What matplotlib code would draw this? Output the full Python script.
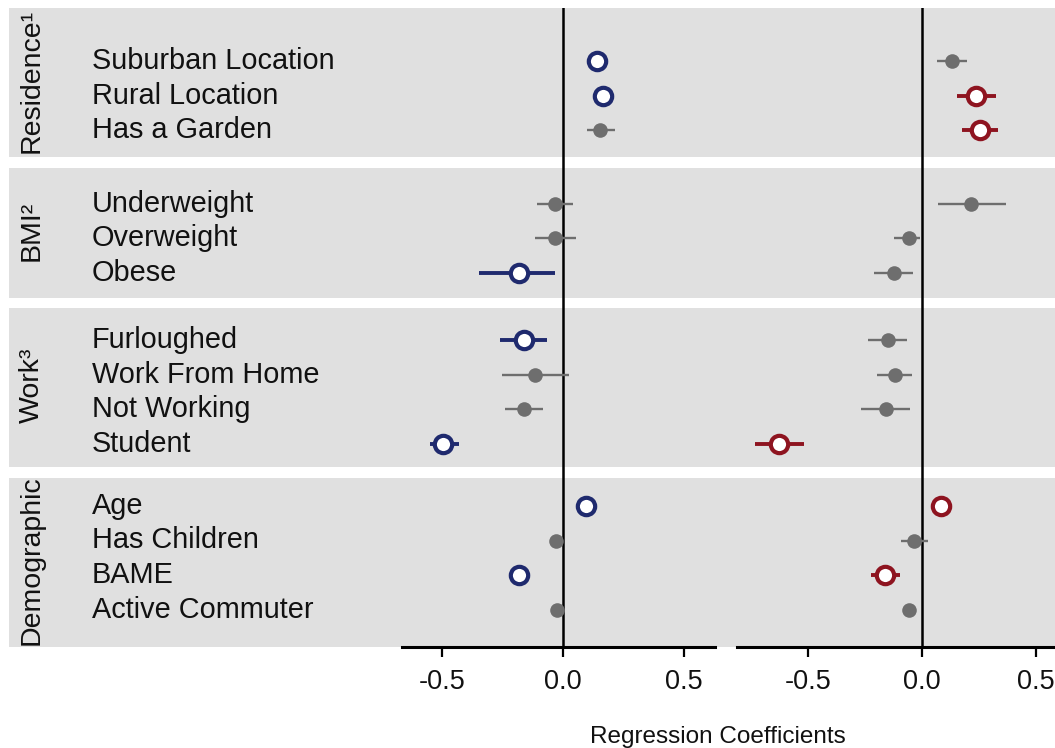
import matplotlib
matplotlib.use("Agg")
import matplotlib.pyplot as plt
from matplotlib.patches import Rectangle

plt.rcParams["font.family"] = ["Liberation Sans", "DejaVu Sans"]

# ---------------- data ----------------
groups = ["Residence¹", "BMI²", "Work³", "Demographic"]
group_rows = [
    ["Suburban Location", "Rural Location", "Has a Garden"],
    ["Underweight", "Overweight", "Obese"],
    ["Furloughed", "Work From Home", "Not Working", "Student"],
    ["Age", "Has Children", "BAME", "Active Commuter"],
]

left_coef = [0.141, 0.169, 0.154, -0.033, -0.033, -0.181, -0.160, -0.116,
             -0.160, -0.495, 0.095, -0.029, -0.181, -0.022]
left_lo = [0.125, 0.153, 0.100, -0.105, -0.116, -0.344, -0.257, -0.250,
           -0.239, -0.548, 0.080, -0.045, -0.195, -0.037]
left_hi = [0.157, 0.185, 0.215, 0.044, 0.054, -0.033, -0.066, 0.026,
           -0.082, -0.430, 0.110, -0.013, -0.167, -0.007]
left_sig = [1, 1, 0, 0, 0, 1, 1, 0, 0, 1, 1, 0, 1, 0]

right_coef = [0.130, 0.235, 0.254, 0.213, -0.057, -0.123, -0.148, -0.118,
              -0.158, -0.626, 0.083, -0.035, -0.162, -0.056]
right_lo = [0.067, 0.155, 0.177, 0.072, -0.123, -0.211, -0.238, -0.196,
            -0.265, -0.730, 0.070, -0.093, -0.221, -0.070]
right_hi = [0.199, 0.325, 0.335, 0.368, -0.009, -0.041, -0.064, -0.042,
            -0.053, -0.518, 0.096, 0.028, -0.096, -0.045]
right_sig = [0, 1, 1, 0, 0, 0, 0, 0, 0, 1, 1, 0, 1, 0]

tick_vals = [-0.5, 0.0, 0.5]
tick_labels = ["-0.5", "0.0", "0.5"]

# ---------------- style / layout ----------------
BG = "#E0E0E0"
GREY = "#6E6E6E"
NAVY = "#1F2A6E"
DRED = "#8E1420"
INK = "#111111"

W, H = 1055, 748
band_edges = [(8, 157), (168, 298), (308, 467), (478, 647)]
first_row = [61, 203.5, 340, 506]
STEP = 34.5
PLOT_TOP, PLOT_BOT = 8, 647

ypos = []
for g, rows in enumerate(group_rows):
    for i in range(len(rows)):
        ypos.append(first_row[g] + i * STEP)

fig = plt.figure(figsize=(W / 100, H / 100), dpi=100)

# background: grey bands, strip text, row labels
bg = fig.add_axes([0, 0, 1, 1])
bg.set_xlim(0, W)
bg.set_ylim(H, 0)
bg.axis("off")
k = 0
for g, (top, bot) in enumerate(band_edges):
    bg.add_patch(Rectangle((9, top), W - 9, bot - top, facecolor=BG,
                           edgecolor="none", zorder=0))
    bg.text(32, (top + bot) / 2 - 2, groups[g], rotation=90, ha="center",
            va="center", fontsize=20.5, color=INK)
    for name in group_rows[g]:
        bg.text(92, ypos[k], name, ha="left", va="center", fontsize=20.8,
                color=INK)
        k += 1


def panel(x0, x1, xlim, coef, lo, hi, sig, col):
    ax = fig.add_axes([x0 / W, (H - PLOT_BOT) / H, (x1 - x0) / W,
                       (PLOT_BOT - PLOT_TOP) / H])
    ax.patch.set_alpha(0)
    ax.set_xlim(*xlim)
    ax.set_ylim(PLOT_BOT, PLOT_TOP)
    ax.axvline(0, color="black", lw=1.8, zorder=1)
    for y, c, l, h, s in zip(ypos, coef, lo, hi, sig):
        if s:
            ax.plot([l, h], [y, y], color=col, lw=2.8, zorder=2,
                    solid_capstyle="butt")
            ax.plot(c, y, "o", ms=12.5, mfc="white", mec=col, mew=3.0,
                    zorder=3)
        else:
            ax.plot([l, h], [y, y], color=GREY, lw=1.7, zorder=2,
                    solid_capstyle="butt")
            ax.plot(c, y, "o", ms=10.5, mfc=GREY, mec=GREY, mew=0, zorder=3)
    for s in ["top", "right", "left"]:
        ax.spines[s].set_visible(False)
    ax.spines["bottom"].set_linewidth(2.2)
    ax.set_yticks([])
    ax.set_xticks(tick_vals)
    ax.set_xticklabels(tick_labels)
    ax.tick_params(axis="x", length=7.5, width=1.6, labelsize=19.5, pad=8,
                   colors="black", labelcolor=INK)
    return ax


panel(401.5, 715, (-0.666, 0.63), left_coef, left_lo, left_hi, left_sig, NAVY)
panel(737, 1060, (-0.81, 0.605), right_coef, right_lo, right_hi, right_sig,
      DRED)

fig.text(718 / W, 1 - 737 / H, "Regression Coefficients", ha="center",
         va="center", fontsize=17.5, color=INK)

fig.savefig("out.png", dpi=100, facecolor="white")
